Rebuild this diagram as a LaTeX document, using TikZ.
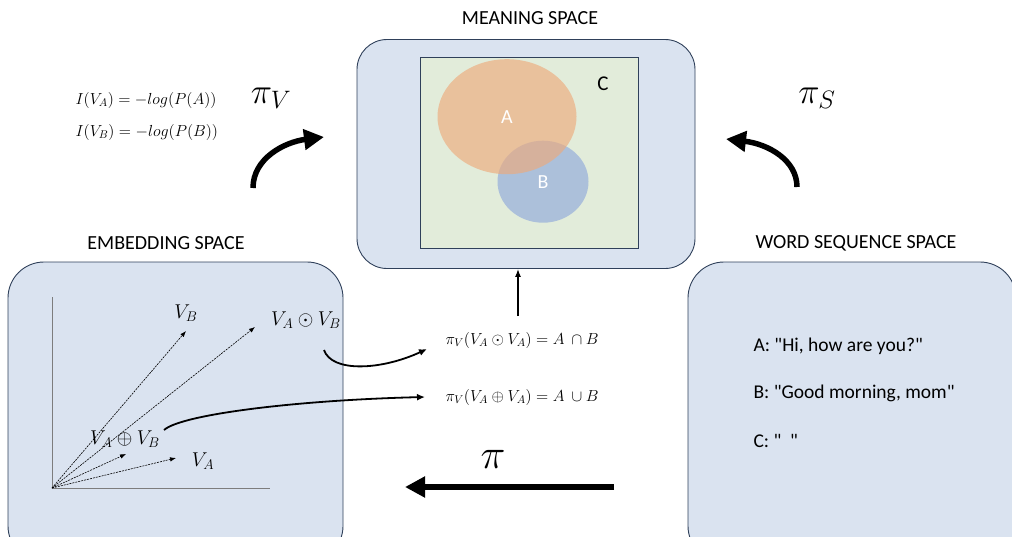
\RequirePackage{fix-cm}
\documentclass[tikz,border=0pt]{standalone}
\usepackage{fontspec}
\setmainfont{Carlito}
\usetikzlibrary{arrows.meta,positioning,calc,shapes.geometric}
\definecolor{panel}{RGB}{218,227,240}
\definecolor{edge}{RGB}{47,64,90}
\definecolor{setc}{RGB}{226,236,218}
\definecolor{seta}{RGB}{237,170,124}
\definecolor{setb}{RGB}{172,192,218}
\definecolor{axisg}{RGB}{125,125,125}
\tikzset{space/.style={draw=edge,fill=panel,rounded corners=30pt,line width=0.9pt,inner sep=0pt},
 title/.style={font=\fontsize{20}{22}\selectfont},
 setnode/.style={ellipse,inner sep=0pt,text=white,font=\fontsize{20}{22}\selectfont},
 vec/.style={-{Latex[length=6pt,width=4.5pt]},dash pattern=on 2pt off 1pt,line width=0.6pt},
 vlabel/.style={font=\fontsize{20}{22}\selectfont},
 map/.style={-{Latex[length=8pt,width=7pt]},line width=1.8pt},
 bigmap/.style={-{Triangle[length=20pt,width=20pt]},line width=5.5pt},
 eq/.style={font=\fontsize{16}{18}\selectfont,anchor=west},
 sent/.style={font=\fontsize{19.5}{22}\selectfont,anchor=west}}
\begin{document}
\begin{tikzpicture}[x=1pt,y=-1pt]
\useasboundingbox (0,0) rectangle (1012,536);
% the three spaces
\node[space,minimum width=338pt,minimum height=229pt] (mean) at (526,154) {};
\node[space,minimum width=335pt,minimum height=300pt,rounded corners=36pt] (emb) at (175.5,412) {};
\node[space,minimum width=328pt,minimum height=300pt,rounded corners=36pt] (word) at (852,412) {};
\node[title] (meant) at (530,18) {MEANING SPACE};
\node[title] (embt) at (166,243) {EMBEDDING SPACE};
\node[title] (wordt) at (856,243) {WORD SEQUENCE SPACE};
% meaning space: sets
\node[draw=edge,fill=setc,line width=0.8pt,minimum width=218pt,minimum height=191pt] (setC) at (529,152.5) {};
\node[setnode,fill=setb,minimum width=91pt,minimum height=82pt] (setB) at (543,181.7) {B};
\node[setnode,fill=seta,fill opacity=0.65,text opacity=1,minimum width=139pt,minimum height=115pt] (setA) at (507,116.7) {A};
\node[font=\fontsize{21}{22}\selectfont] (labC) at (603,84) {C};
% embedding space: axes and vectors
\coordinate (o) at (52,488);
\coordinate (ytop) at (52,297);
\coordinate (xend) at (270,488);
\draw[axisg,line width=0.7pt] (ytop)--(o)--(xend);
\coordinate (tB) at (186,331);
\coordinate (tAB) at (255,327);
\coordinate (tsum) at (126,454);
\coordinate (tA) at (176,458);
\foreach \t in {tB,tAB,tsum,tA} \draw[vec] (o)--(\t);
\node[vlabel] (lB) at (186,313) {$V_B$};
\node[vlabel] (lAB) at (306,320) {$V_A\odot V_B$};
\node[vlabel] (lsum) at (125,439) {$V_A\oplus V_B$};
\node[vlabel] (lA) at (203,461) {$V_A$};
% results of the two operations
\node[eq] (eqand) at (442,340) {$\pi_V(V_A\odot V_A)=A\ \cap B$};
\node[eq] (eqor) at (442,397) {$\pi_V(V_A\oplus V_A)=A\ \cup B$};
\coordinate (c1s) at (324,350);
\coordinate (c1e) at (427,349);
\coordinate (c2s) at (164,430);
\coordinate (c2e) at (425,397);
\draw[map] (c1s) .. controls (332,373) and (382,370) .. (c1e);
\draw[map] (c2s) .. controls (182,414) and (300,400) .. (c2e);
\coordinate (ups) at (518,316);
\draw[-{Latex[length=8pt,width=6pt]},line width=1.3pt] (ups)--(mean.south -| ups);
% information content
\node[eq] (info1) at (72,100) {$I(V_A)=-log(P(A))$};
\node[eq] (info2) at (72,132) {$I(V_B)=-log(P(B))$};
% projections into meaning space
\coordinate (pvs) at (253,188);
\coordinate (pve) at (324,137);
\draw[bigmap] (pvs) .. controls (253,158) and (285,142) .. (pve);
\node[font=\fontsize{36}{38}\selectfont] (piV) at (271,98) {$\pi_V$};
\coordinate (pss) at (797,187);
\coordinate (pse) at (726,139);
\draw[bigmap] (pss) .. controls (797,160) and (768,144) .. (pse);
\node[font=\fontsize{36}{38}\selectfont] (piS) at (817,98) {$\pi_S$};
% word sequences
\node[sent] (sA) at (750,346) {A: \textquotedbl Hi, how are you?\textquotedbl};
\node[sent] (sB) at (750,393) {B: \textquotedbl Good morning, mom\textquotedbl};
\node[sent] (sC) at (750,441) {C: \textquotedbl\ \ \textquotedbl};
\coordinate (pis) at (614,487);
\coordinate (pie) at (405,487);
\draw[bigmap] (pis)--(pie);
\node[font=\fontsize{42}{44}\selectfont] (pi) at (493,459) {$\pi$};
\end{tikzpicture}
\end{document}
